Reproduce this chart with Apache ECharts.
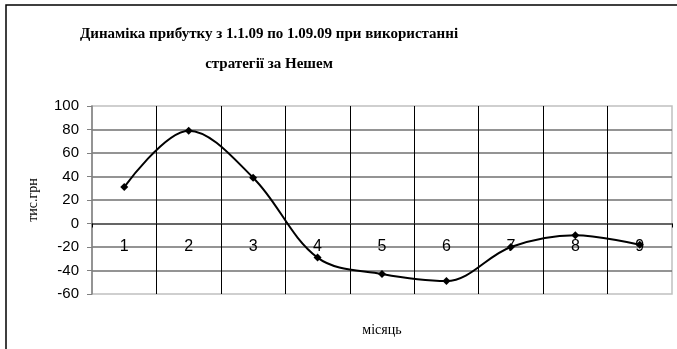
<!DOCTYPE html>
<html>
<head>
<meta charset="utf-8">
<script src="https://cdn.jsdelivr.net/npm/echarts@6/dist/echarts.min.js"></script>
<style>
  body { margin: 0; background: #fff; }
  #chart { width: 677px; height: 349px; }
</style>
</head>
<body>
<div id="chart"></div>
<script>
const months = ['1', '2', '3', '4', '5', '6', '7', '8', '9'];
const profit = [31, 79, 39, -29, -43, -49, -20, -10, -18];
const yMin = -60;
const yMax = 100;
const yStep = 20;

const myChart = echarts.init(document.getElementById('chart'), null, { renderer: 'canvas' });

// category axis sits on the zero line, like in Excel
const plotTop = 106, plotBottom = 294;
const zeroOffset = -(plotBottom - (plotTop + (plotBottom - plotTop) * yMax / (yMax - yMin)));

const option = {
  animation: false,
  backgroundColor: '#ffffff',
  title: {
    text: 'Динаміка прибутку з 1.1.09 по 1.09.09 при використанні\nстратегії за Нешем',
    left: 264,
    top: 14,
    textAlign: 'center',
    textStyle: {
      fontFamily: 'Liberation Serif, serif',
      fontWeight: 'bold',
      fontSize: 15,
      lineHeight: 30,
      color: '#000'
    }
  },
  graphic: [
    {
      type: 'rect',
      shape: { x: 6, y: 5, width: 700, height: 400 },
      style: { fill: 'none', stroke: '#000', lineWidth: 1.5 },
      z: 100
    }
  ],
  grid: {
    left: 92,
    right: 5,
    top: plotTop,
    bottom: 349 - plotBottom,
    outerBoundsMode: 'none',
    containLabel: false,
    show: true,
    borderColor: '#c0c0c0',
    borderWidth: 1.5
  },
  xAxis: {
    type: 'category',
    data: months,
    boundaryGap: true,
    position: 'bottom',
    offset: zeroOffset,
    name: 'місяць',
    nameLocation: 'middle',
    nameGap: 100,
    nameTextStyle: { fontFamily: 'Liberation Serif, serif', fontSize: 14, color: '#000' },
    axisLine: { onZero: false, lineStyle: { color: '#555', width: 1.5 } },
    axisTick: { show: true, length: 4, lineStyle: { color: '#000' } },
    axisLabel: { margin: 15, fontFamily: 'Liberation Sans, Arial, sans-serif', fontSize: 16, color: '#000' },
    splitLine: { show: true, showMinLine: false, showMaxLine: false, lineStyle: { color: '#000', width: 1 } }
  },
  yAxis: {
    type: 'value',
    min: yMin,
    max: yMax,
    interval: yStep,
    name: 'тис.грн',
    nameLocation: 'middle',
    nameGap: 52,
    nameTextStyle: { fontFamily: 'Liberation Serif, serif', fontSize: 14, color: '#000' },
    axisLine: { show: true, lineStyle: { color: '#808080', width: 1.5 } },
    axisTick: { show: true, length: 5, lineStyle: { color: '#808080' } },
    axisLabel: { margin: 13, fontFamily: 'Liberation Sans, Arial, sans-serif', fontSize: 15, color: '#000' },
    splitLine: { show: true, showMinLine: false, showMaxLine: false, lineStyle: { color: '#707070', width: 1.5 } }
  },
  series: [
    {
      type: 'line',
      data: profit,
      smooth: 0.35,
      symbol: 'diamond',
      symbolSize: 8,
      lineStyle: { color: '#000', width: 2 },
      itemStyle: { color: '#000' },
      z: 10
    }
  ]
};

myChart.setOption(option);
</script>
</body>
</html>
